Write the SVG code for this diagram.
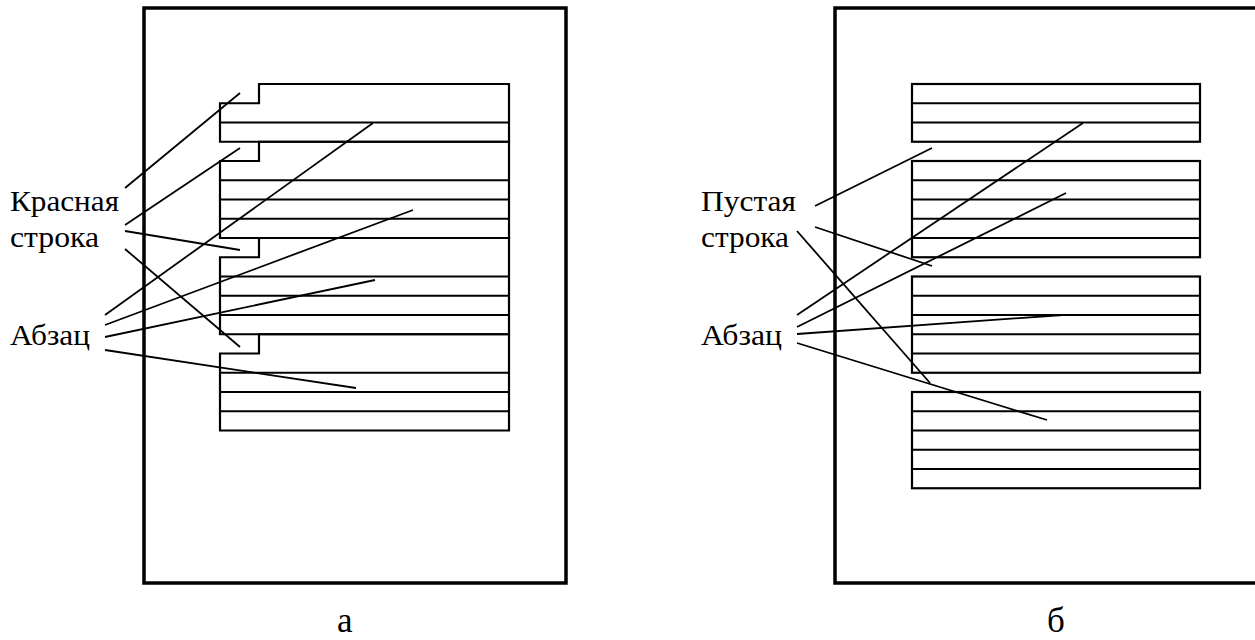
<svg xmlns="http://www.w3.org/2000/svg" width="1255" height="640" viewBox="0 0 1255 640">
<style>
.frame{fill:none;stroke:#000;stroke-width:3.5}
.box{fill:none;stroke:#000;stroke-width:2.2}
.ln{stroke:#000;stroke-width:2.2}
.lead{stroke:#000;stroke-width:1.8;fill:none}
.lbl{font-family:"Liberation Serif",serif;font-size:30px;fill:#000}
.cap{font-family:"Liberation Serif",serif;font-size:35px;fill:#000}
</style>
<rect width="1255" height="640" fill="#fff"/>
<g id="page-a">
<rect class="frame" x="144" y="8" width="422" height="575"/>
</g>
<g id="page-b">
<rect class="frame" x="835" y="8" width="430" height="575"/>
</g>
<g id="paragraphs-a">
<g id="a-p1">
<polygon class="box" points="259,84 509,84 509,141.75 220,141.75 220,103.25 259,103.25"/>
<line class="ln" x1="220" y1="122.5" x2="509" y2="122.5"/>
</g>
<g id="a-p2">
<polygon class="box" points="259,141.75 509,141.75 509,238 220,238 220,161 259,161"/>
<line class="ln" x1="220" y1="180.25" x2="509" y2="180.25"/>
<line class="ln" x1="220" y1="199.5" x2="509" y2="199.5"/>
<line class="ln" x1="220" y1="218.75" x2="509" y2="218.75"/>
</g>
<g id="a-p3">
<polygon class="box" points="259,238 509,238 509,334.25 220,334.25 220,257.25 259,257.25"/>
<line class="ln" x1="220" y1="276.5" x2="509" y2="276.5"/>
<line class="ln" x1="220" y1="295.75" x2="509" y2="295.75"/>
<line class="ln" x1="220" y1="315" x2="509" y2="315"/>
</g>
<g id="a-p4">
<polygon class="box" points="259,334.25 509,334.25 509,430.5 220,430.5 220,353.5 259,353.5"/>
<line class="ln" x1="220" y1="372.75" x2="509" y2="372.75"/>
<line class="ln" x1="220" y1="392" x2="509" y2="392"/>
<line class="ln" x1="220" y1="411.25" x2="509" y2="411.25"/>
</g>
</g>
<g id="paragraphs-b">
<g id="b-p1">
<rect class="box" x="912" y="84" width="288" height="57.75"/>
<line class="ln" x1="912" y1="103.25" x2="1200" y2="103.25"/>
<line class="ln" x1="912" y1="122.5" x2="1200" y2="122.5"/>
</g>
<g id="b-p2">
<rect class="box" x="912" y="161" width="288" height="96.25"/>
<line class="ln" x1="912" y1="180.25" x2="1200" y2="180.25"/>
<line class="ln" x1="912" y1="199.5" x2="1200" y2="199.5"/>
<line class="ln" x1="912" y1="218.75" x2="1200" y2="218.75"/>
<line class="ln" x1="912" y1="238" x2="1200" y2="238"/>
</g>
<g id="b-p3">
<rect class="box" x="912" y="276.5" width="288" height="96.25"/>
<line class="ln" x1="912" y1="295.75" x2="1200" y2="295.75"/>
<line class="ln" x1="912" y1="315" x2="1200" y2="315"/>
<line class="ln" x1="912" y1="334.25" x2="1200" y2="334.25"/>
<line class="ln" x1="912" y1="353.5" x2="1200" y2="353.5"/>
</g>
<g id="b-p4">
<rect class="box" x="912" y="392" width="288" height="96.25"/>
<line class="ln" x1="912" y1="411.25" x2="1200" y2="411.25"/>
<line class="ln" x1="912" y1="430.5" x2="1200" y2="430.5"/>
<line class="ln" x1="912" y1="449.75" x2="1200" y2="449.75"/>
<line class="ln" x1="912" y1="469" x2="1200" y2="469"/>
</g>
</g>
<g id="labels">
<g id="label-a-red"><text class="lbl" x="10" y="211" textLength="109" lengthAdjust="spacingAndGlyphs">Красная</text><text class="lbl" x="10" y="247" textLength="89" lengthAdjust="spacingAndGlyphs">строка</text></g>
<g id="label-a-par"><text class="lbl" x="10" y="345" textLength="80" lengthAdjust="spacingAndGlyphs">Абзац</text></g>
<g id="label-b-empty"><text class="lbl" x="701" y="211" textLength="95" lengthAdjust="spacingAndGlyphs">Пустая</text><text class="lbl" x="701" y="247" textLength="88" lengthAdjust="spacingAndGlyphs">строка</text></g>
<g id="label-b-par"><text class="lbl" x="701" y="345" textLength="81" lengthAdjust="spacingAndGlyphs">Абзац</text></g>
<g id="caption-a"><text class="cap" x="337" y="632">а</text></g>
<g id="caption-b"><text class="cap" x="1047" y="632">б</text></g>
</g>
<g id="connectors">
<line class="lead" x1="125" y1="188" x2="240" y2="93"/>
<line class="lead" x1="125" y1="225" x2="240" y2="148"/>
<line class="lead" x1="125" y1="231" x2="240" y2="250"/>
<line class="lead" x1="125" y1="249" x2="240" y2="347"/>
<line class="lead" x1="105" y1="315" x2="373" y2="123"/>
<line class="lead" x1="105" y1="325" x2="413" y2="210"/>
<line class="lead" x1="105" y1="337" x2="375" y2="280"/>
<line class="lead" x1="105" y1="350" x2="356" y2="388"/>
<line class="lead" x1="815" y1="206" x2="932" y2="148"/>
<line class="lead" x1="815" y1="227" x2="932" y2="266"/>
<line class="lead" x1="797" y1="231" x2="930" y2="383"/>
<line class="lead" x1="797" y1="315" x2="1083" y2="123"/>
<line class="lead" x1="797" y1="327" x2="1066" y2="193"/>
<line class="lead" x1="797" y1="334" x2="1063" y2="315"/>
<line class="lead" x1="797" y1="343" x2="1047" y2="420"/>
</g>
</svg>
